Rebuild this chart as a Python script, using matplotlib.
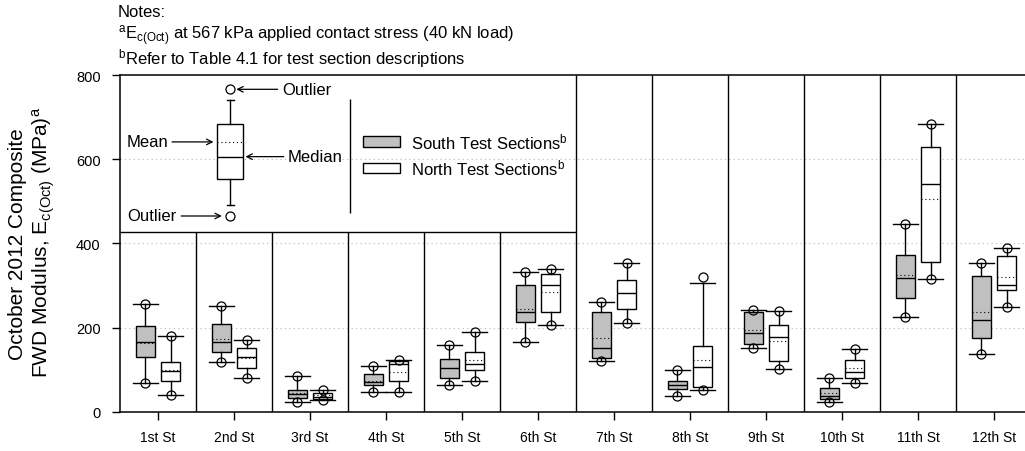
import numpy as np
import matplotlib
matplotlib.use("Agg")
import matplotlib.pyplot as plt
from matplotlib.patches import Rectangle

# Arial-like text everywhere, mathtext for the subscripts/superscripts
plt.rcParams['font.family'] = ['Liberation Sans', 'DejaVu Sans']
plt.rcParams['mathtext.fontset'] = 'custom'
plt.rcParams['mathtext.rm'] = 'Liberation Sans'
plt.rcParams['mathtext.it'] = 'Liberation Sans:italic'
plt.rcParams['mathtext.bf'] = 'Liberation Sans:bold'

"""1. Data (MPa)"""
streets = ["1st St", "2nd St", "3rd St", "4th St", "5th St", "6th St",
           "7th St", "8th St", "9th St", "10th St", "11th St", "12th St"]

# South test sections
s_lo   = [68, 117, 22, 46, 63, 165, 120, 37, 151, 22, 225, 137]
s_q1   = [130, 141, 32, 63, 79, 214, 127, 53, 161, 29, 270, 174]
s_med  = [166, 166, 42, 70, 105, 236, 151, 63, 188, 38, 318, 218]
s_mean = [163, 172, 45, 74, 104, 245, 176, 64, 195, 44, 324, 237]
s_q3   = [203, 209, 51, 89, 126, 300, 237, 74, 236, 57, 372, 323]
s_hi   = [255, 251, 84, 109, 159, 332, 260, 99, 242, 80, 445, 353]
s_out_lo = s_lo
s_out_hi = s_hi

# North test sections
n_lo   = [40, 79, 28, 46, 72, 206, 210, 51, 101, 68, 315, 248]
n_q1   = [74, 104, 30, 72, 100, 236, 244, 59, 120, 81, 356, 288]
n_med  = [96, 130, 36, 113, 113, 302, 282, 106, 178, 95, 542, 301]
n_mean = [99, 127, 39, 95, 123, 285, 281, 123, 168, 103, 506, 320]
n_q3   = [119, 151, 44, 120, 143, 327, 313, 157, 207, 123, 629, 370]
n_hi   = [180, 171, 51, 124, 190, 339, 353, 305, 240, 150, 683, 390]
n_out_lo = n_lo
n_out_hi = [180, 171, 51, 124, 190, 339, 353, 321, 240, 150, 683, 390]

# example box drawn in the key
key_box = dict(whislo=491, q1=552, med=606, mean=641, q3=683, whishi=740,
               fliers=[465, 766])

yticks = [0, 200, 400, 600, 800]


def make_stats(lo, q1, med, mean, q3, hi, out_lo, out_hi):
    return [dict(whislo=lo[i], q1=q1[i], med=med[i], mean=mean[i], q3=q3[i],
                 whishi=hi[i], fliers=[out_lo[i], out_hi[i]])
            for i in range(len(lo))]


south = make_stats(s_lo, s_q1, s_med, s_mean, s_q3, s_hi, s_out_lo, s_out_hi)
north = make_stats(n_lo, n_q1, n_med, n_mean, n_q3, n_hi, n_out_lo, n_out_hi)

"""2. Figure and axes"""
fig = plt.figure(figsize=(10.25, 4.52), dpi=100)
# axes runs slightly past the right side of the figure
ax = fig.add_axes([120 / 1025, 39.3 / 452, 912 / 1025, 336.7 / 452])

pos = np.arange(1, len(streets) + 1)
ax.set_xlim(0.5, len(streets) + 0.5)
ax.set_ylim(0, 800)

common = dict(showmeans=True, meanline=True, patch_artist=True, manage_ticks=False,
              medianprops=dict(color='black', linewidth=1),
              meanprops=dict(color='black', linestyle=(0, (1, 2.5)), linewidth=0.8),
              whiskerprops=dict(color='black', linewidth=1),
              capprops=dict(color='black', linewidth=1),
              flierprops=dict(marker='o', markerfacecolor='none',
                              markeredgecolor='black', markersize=6.5,
                              markeredgewidth=0.9))

ax.bxp(south, positions=pos - 0.165, widths=0.25, capwidths=0.33,
       boxprops=dict(facecolor='#c0c0c0', edgecolor='black', linewidth=1),
       **common)
ax.bxp(north, positions=pos + 0.165, widths=0.25, capwidths=0.33,
       boxprops=dict(facecolor='white', edgecolor='black', linewidth=1),
       **common)

# grid and section dividers
for y in [200, 400, 600]:
    ax.axhline(y, color='#b8b8b8', linestyle=(0, (1, 3)), linewidth=0.8, zorder=0)

key_bottom = 426
for k in range(1, len(streets)):
    top = key_bottom if k < 6 else 800
    ax.vlines(k + 0.5, 0, top, color='black', linewidth=1, zorder=1)
ax.hlines(key_bottom, 0.5, 6.5, color='black', linewidth=1, zorder=1)

"""3. Key in the upper-left panel"""
ax.bxp([key_box], positions=[1.95], widths=0.34, capwidths=0.09,
       boxprops=dict(facecolor='white', edgecolor='black', linewidth=1), **common)

arrow = dict(arrowstyle='->', color='black', linewidth=0.9, shrinkA=1, shrinkB=0,
             mutation_scale=10)
fs_key = 12
ax.annotate("Outlier", xy=(2.03, 766), xytext=(2.63, 766), ha='left', va='center',
            fontsize=fs_key, arrowprops=arrow)
ax.annotate("Mean", xy=(1.73, 641), xytext=(1.13, 641), ha='right', va='center',
            fontsize=fs_key, arrowprops=arrow)
ax.annotate("Median", xy=(2.15, 606), xytext=(2.71, 606), ha='left', va='center',
            fontsize=fs_key, arrowprops=arrow)
ax.annotate("Outlier", xy=(1.84, 465), xytext=(1.25, 465), ha='right', va='center',
            fontsize=fs_key, arrowprops=arrow)

ax.vlines(3.53, 472, 743, color='black', linewidth=1)
ax.add_patch(Rectangle((3.70, 630), 0.48, 24, facecolor='#c0c0c0',
                       edgecolor='black', linewidth=1))
ax.add_patch(Rectangle((3.70, 568), 0.48, 24, facecolor='white',
                       edgecolor='black', linewidth=1))
ax.text(4.33, 642, r"South Test Sections$^\mathregular{b}$", ha='left', va='center',
        fontsize=fs_key)
ax.text(4.33, 580, r"North Test Sections$^\mathregular{b}$", ha='left', va='center',
        fontsize=fs_key)

"""4. Ticks, labels, notes"""
ax.set_xticks(pos)
ax.set_xticklabels(streets, fontsize=10)
ax.set_yticks(yticks)
ax.set_yticklabels([str(v) for v in yticks], fontsize=10.5)
ax.tick_params(direction='out', length=6, width=1)
ax.tick_params(axis='y', pad=8)
ax.tick_params(axis='x', pad=7)
for s in ax.spines.values():
    s.set_linewidth(1.1)

fig.text(18 / 1025, 1 - 244 / 452, "October 2012 Composite", rotation=90,
         ha='center', va='center', fontsize=15)
fig.text(44 / 1025, 1 - 242 / 452,
         r"FWD Modulus, $\mathregular{E_{c(Oct)}}$ (MPa)$^\mathregular{a}$",
         rotation=90, ha='center', va='center', fontsize=15)

fig.text(118 / 1025, 1 - 17 / 452, "Notes:", ha='left', va='baseline', fontsize=12)
fig.text(118 / 1025, 1 - 40 / 452,
         r"$^\mathregular{a}$$\mathregular{E_{c(Oct)}}$ at 567 kPa applied contact stress (40 kN load)",
         ha='left', va='baseline', fontsize=12)
fig.text(118 / 1025, 1 - 64 / 452,
         r"$^\mathregular{b}$Refer to Table 4.1 for test section descriptions",
         ha='left', va='baseline', fontsize=12)

fig.savefig("out.png", dpi=100)
